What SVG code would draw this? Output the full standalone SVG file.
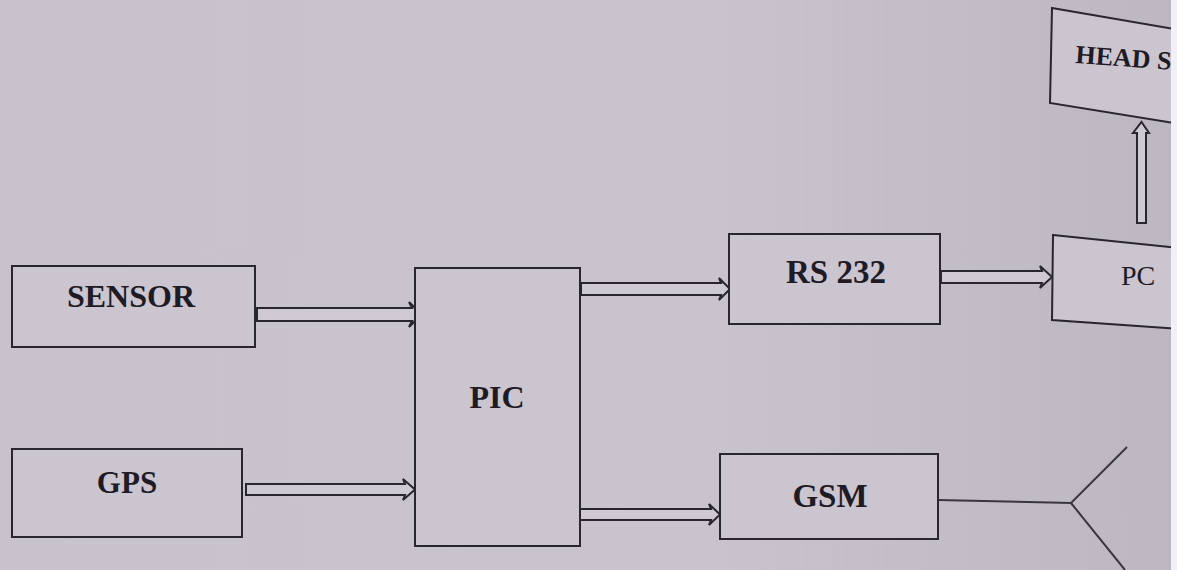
<svg xmlns="http://www.w3.org/2000/svg" width="1177" height="570" viewBox="0 0 1177 570">
<defs>
<style>
.box{fill:#cbc5d0;stroke:#2a2630;stroke-width:2}
.arr{fill:#cfc9d4;stroke:#2a2630;stroke-width:2;stroke-linejoin:miter}
.ln{fill:none;stroke:#3a3640;stroke-width:2}
.t{font-family:"Liberation Serif",serif;font-weight:bold;fill:#1e1b24;text-anchor:middle;font-size:32px}
</style>
<linearGradient id="bg" x1="0" y1="0" x2="1" y2="0">
<stop offset="0" stop-color="#c8c2cd"/>
<stop offset="0.6" stop-color="#c9c3ce"/>
<stop offset="1" stop-color="#bdb7c2"/>
</linearGradient>
</defs>
<rect width="1177" height="570" fill="url(#bg)"/>
<g id="connectors">
<polygon class="arr" points="257,308 412,308 409,302 422,314.5 409,327 412,321 257,321"/>
<polygon class="arr" points="246,484 405,484 403,479 415,489.5 403,500 405,495 246,495"/>
<polygon class="arr" points="581,283 721,283 719,278 730,289 719,300 721,295 581,295"/>
<polygon class="arr" points="941,271 1042,271 1040,266 1052,277 1040,288 1042,283 941,283"/>
<polygon class="arr" points="573,509 711,509 709,504 720,514.5 709,525 711,520 573,520"/>
<polygon class="arr" points="1137,223 1137,133 1133,133 1141.5,122 1149,133 1146,133 1146,223"/>
<polyline class="ln" points="938,500 1071,503 1127,447"/>
<line class="ln" x1="1071" y1="503" x2="1125" y2="570"/>
</g>
<g id="sensor"><rect class="box" x="12" y="266" width="243" height="81"/><text class="t" x="131" y="307">SENSOR</text></g>
<g id="gps"><rect class="box" x="12" y="449" width="230" height="88"/><text class="t" x="127" y="493" style="font-size:31px">GPS</text></g>
<g id="pic"><rect class="box" x="415" y="268" width="165" height="278"/><text class="t" x="497" y="408">PIC</text></g>
<g id="rs232"><rect class="box" x="729" y="234" width="211" height="90"/><text class="t" x="836" y="283" style="font-size:33px">RS 232</text></g>
<g id="gsm"><rect class="box" x="720" y="454" width="218" height="85"/><text class="t" x="830" y="507" style="font-size:33px">GSM</text></g>
<g id="pc"><polygon class="box" points="1053,235 1180,248 1180,329 1052,320"/><text class="t" x="1138" y="285" style="font-size:28px;font-weight:normal">PC</text></g>
<g id="headset"><polygon class="box" points="1052,8 1180,30 1180,124 1050,103"/><text class="t" x="1075" y="63" transform="rotate(4 1075 63)" style="font-size:26px;text-anchor:start">HEAD S</text></g>
<rect x="1171" y="0" width="6" height="570" fill="#f2f0f4"/>
</svg>
